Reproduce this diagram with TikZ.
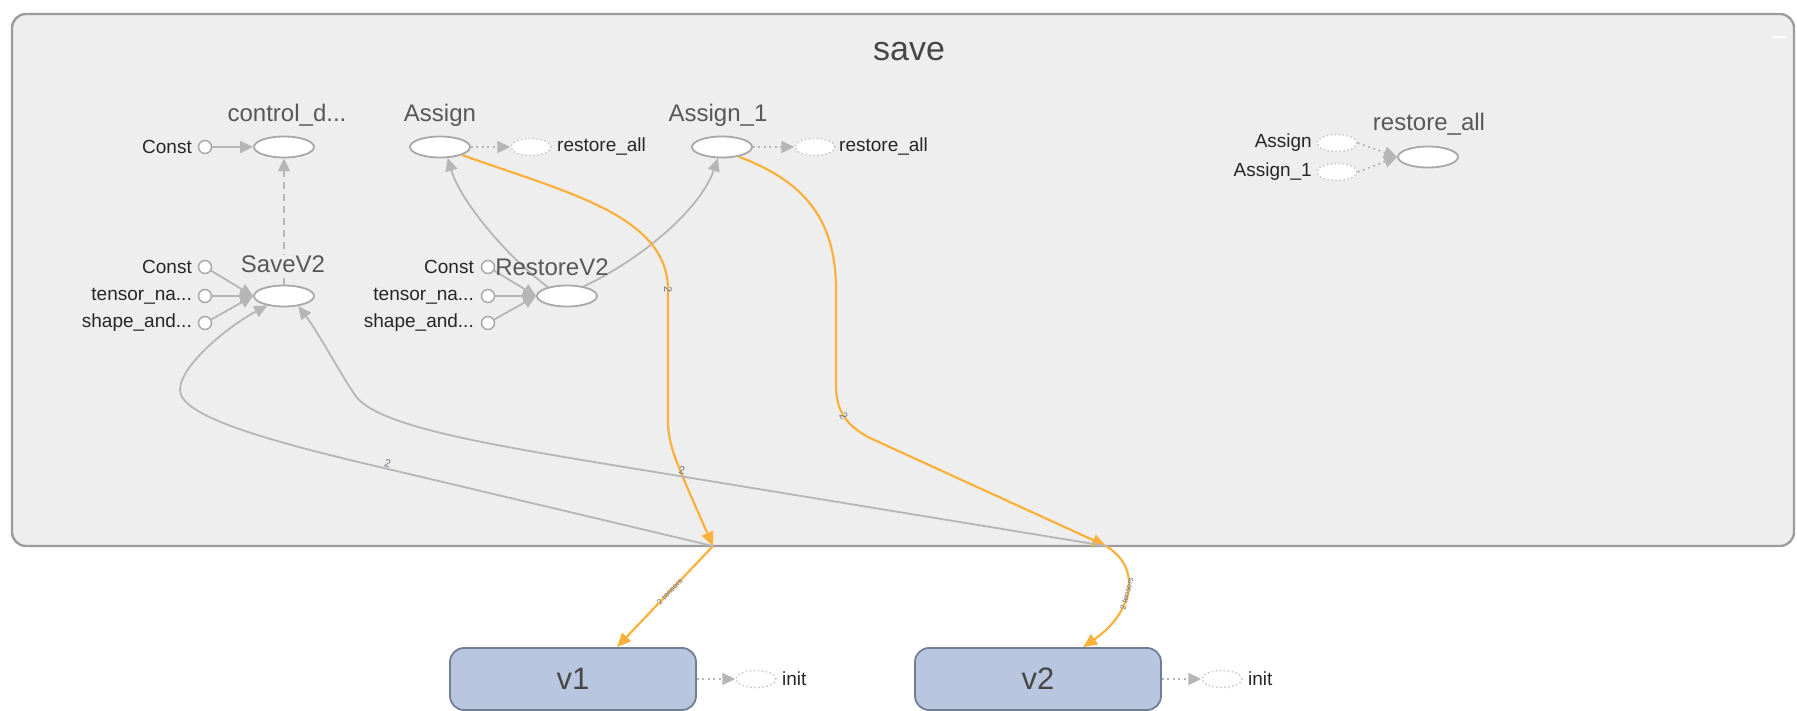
\documentclass[tikz,border=0pt]{standalone}
\usepackage{fontspec}
\setmainfont{Liberation Sans}
\usetikzlibrary{shapes.geometric,arrows.meta}

\definecolor{panelbg}{HTML}{EEEEEE}
\definecolor{panelline}{HTML}{9C9C9C}
\definecolor{opline}{HTML}{A8A8A8}
\definecolor{edgegrey}{HTML}{B6B6B6}
\definecolor{refline}{HTML}{FBB13C}
\definecolor{titletext}{HTML}{474747}
\definecolor{optext}{HTML}{585858}
\definecolor{porttext}{HTML}{262626}
\definecolor{varfill}{HTML}{B8C6E0}
\definecolor{varline}{HTML}{727E93}
\definecolor{ghostline}{HTML}{C6C6C6}
\definecolor{shapetext}{HTML}{6A7890}

\pgfdeclarelayer{back}
\pgfdeclarelayer{edges}
\pgfsetlayers{back,edges,main}

\begin{document}
\begin{tikzpicture}[x=1pt,y=-1pt,
  panel/.style={rectangle, draw=panelline, line width=2.4pt, fill=panelbg,
    rounded corners=14pt, inner sep=0pt},
  savetitle/.style={font=\fontsize{34}{36}\selectfont, text=titletext},
  op/.style={ellipse, draw=opline, line width=1.8pt, fill=white,
    minimum width=60pt, minimum height=21pt, inner sep=0pt},
  ghost/.style={ellipse, draw=ghostline, dash pattern=on 1.5pt off 2.5pt,
    line width=1.4pt, fill=white, minimum width=40pt, minimum height=17pt, inner sep=0pt},
  port/.style={circle, draw=opline, line width=1.5pt, fill=white,
    minimum size=13pt, inner sep=0pt},
  oplabel/.style={font=\fontsize{24}{26}\selectfont, text=optext, inner sep=1pt},
  portlabel/.style={font=\fontsize{19}{21}\selectfont, text=porttext, inner sep=0pt, anchor=east},
  ghostlabel/.style={font=\fontsize{19}{21}\selectfont, text=porttext, inner sep=0pt, anchor=west},
  varnode/.style={rectangle, rounded corners=14pt, draw=varline, line width=1.8pt,
    fill=varfill, minimum width=246pt, minimum height=62pt,
    font=\fontsize{31}{33}\selectfont, text=titletext},
  greytip/.style={-{Triangle[length=13pt,width=12pt]}},
  dataedge/.style={draw=edgegrey, line width=1.8pt, greytip},
  ctrledge/.style={draw=edgegrey, line width=1.8pt, dash pattern=on 7pt off 5pt, greytip},
  ghostedge/.style={draw=edgegrey, line width=1.6pt, dash pattern=on 2pt off 3.5pt, greytip},
  refedge/.style={draw=refline, line width=2.2pt, -{Triangle[length=14pt,width=12pt]}},
  elabel/.style={font=\fontsize{11}{12}\selectfont, text=shapetext, inner sep=1pt},
  tlabel/.style={font=\fontsize{8}{9}\selectfont, text=shapetext, inner sep=1pt}
]
\useasboundingbox (0,0) rectangle (1797,711);

% ---- the "save" name scope ----
\begin{pgfonlayer}{back}
  \node[panel, minimum width=1782pt, minimum height=532pt] (save) at (903,280) {};
  \draw[white, line width=2.5pt] (1772,37) -- (1786,37);
\end{pgfonlayer}
\node[savetitle] (savelabel) at (909,52) {save};

% control dependency group
\node[op] (cd) at (284,147) {};
\node[oplabel] (cdl) at (287,115) {control\_d...};
\node[port] (cdp) at (205,147) {};
\node[portlabel] (cdpl) at (192,147) {Const};

% SaveV2 and its inputs
\node[op] (sv) at (284,296) {};
\node[oplabel, fill=panelbg] (svl) at (283,264) {SaveV2};
\node[port] (svp1) at (205,267) {};
\node[port] (svp2) at (205,296) {};
\node[port] (svp3) at (205,323) {};
\node[portlabel] (svp1l) at (192,267) {Const};
\node[portlabel] (svp2l) at (192,296) {tensor\_na...};
\node[portlabel] (svp3l) at (192,323) {shape\_and...};

% Assign ops
\node[op] (as) at (440,147) {};
\node[oplabel] (asl) at (440,115) {Assign};
\node[ghost] (asg) at (531,147) {};
\node[ghostlabel] (asgl) at (557,147) {restore\_all};

\node[op] (as1) at (722,147) {};
\node[oplabel] (as1l) at (718,115) {Assign\_1};
\node[ghost] (as1g) at (815,147) {};
\node[ghostlabel] (as1gl) at (839,147) {restore\_all};

% RestoreV2 and its inputs
\node[op] (rv) at (567,296) {};
\node[oplabel] (rvl) at (552,267) {RestoreV2};
\node[port] (rvp1) at (488,267) {};
\node[port] (rvp2) at (488,296) {};
\node[port] (rvp3) at (488,323) {};
\node[portlabel] (rvp1l) at (474,267) {Const};
\node[portlabel] (rvp2l) at (474,296) {tensor\_na...};
\node[portlabel] (rvp3l) at (474,323) {shape\_and...};

% restore_all group
\node[op] (ra) at (1428,157) {};
\node[oplabel] (ral) at (1429,124) {restore\_all};
\node[ghost] (rag1) at (1337,143) {};
\node[ghost] (rag2) at (1337,172) {};
\node[portlabel] (rag1l) at (1312,143) {Assign};
\node[portlabel] (rag2l) at (1312,172) {Assign\_1};

% variables outside the scope
\node[varnode] (v1) at (573,679) {v1};
\node[ghost] (v1g) at (756,679) {};
\node[ghostlabel] (v1gl) at (782,679) {init};
\node[varnode] (v2) at (1038,679) {v2};
\node[ghost] (v2g) at (1222,679) {};
\node[ghostlabel] (v2gl) at (1248,679) {init};

% points where edges cross the scope border
\coordinate (b1) at (713,546);
\coordinate (b2) at (1106,546);

\begin{pgfonlayer}{edges}
  % inputs into ops
  \draw[dataedge] (cdp) -- (cd.west);
  \draw[dataedge] (svp1) -- (sv.west);
  \draw[dataedge] (svp2) -- (sv.west);
  \draw[dataedge] (svp3) -- (sv.west);
  \draw[dataedge] (rvp1) -- (rv.west);
  \draw[dataedge] (rvp2) -- (rv.west);
  \draw[dataedge] (rvp3) -- (rv.west);
  \draw[ctrledge] (sv.north) -- (cd.south);

  % RestoreV2 outputs
  \draw[dataedge] (rv.155) .. controls (505,255) and (460,200) .. (as.-55);
  \draw[dataedge] (rv.30) .. controls (640,260) and (700,210) .. (as1.250);

  % control outputs to restore_all
  \draw[ghostedge] (as) -- (asg);
  \draw[ghostedge] (as1) -- (as1g);
  \draw[ghostedge] (rag1.east) -- (ra.west);
  \draw[ghostedge] (rag2.east) -- (ra.west);
  \draw[ghostedge] (v1) -- (v1g);
  \draw[ghostedge] (v2) -- (v2g);

  % reference edges from the Assign ops to the variables
  \draw[refedge] (as.-20) .. controls (565,192) and (668,215) .. (668,290)
    -- node[elabel, sloped, pos=0] {2} (668,420)
    .. controls (668,445) and (675,460) .. (b1);
  \draw[refedge] (as1.-30) .. controls (800,180) and (836,215) .. (836,290)
    -- (836,385) .. controls (836,410) and (845,425) .. node[elabel, sloped, pos=0.5] {2} (870,438)
    -- (b2);
  \draw[refedge] (b1) -- node[tlabel, sloped, pos=0.45] {2 tensors} ([xshift=44pt]v1.north);
  \draw[refedge] (b2) .. controls (1145,570) and (1130,615) .. node[tlabel, sloped] {2 tensors} ([xshift=45pt]v2.north);

  % variable values into SaveV2
  \draw[dataedge] (b1) -- node[elabel, sloped, pos=0.9, anchor=south] {2} (350,460)
    .. controls (260,438) and (180,415) .. (180,390)
    .. controls (180,365) and (230,325) .. (sv.210);
  \draw[dataedge] (b2) -- node[elabel, sloped, pos=0.84, anchor=south] {2} (600,463)
    .. controls (480,443) and (375,425) .. (355,395)
    .. controls (338,370) and (320,335) .. (sv.-35);
\end{pgfonlayer}
\end{tikzpicture}
\end{document}
